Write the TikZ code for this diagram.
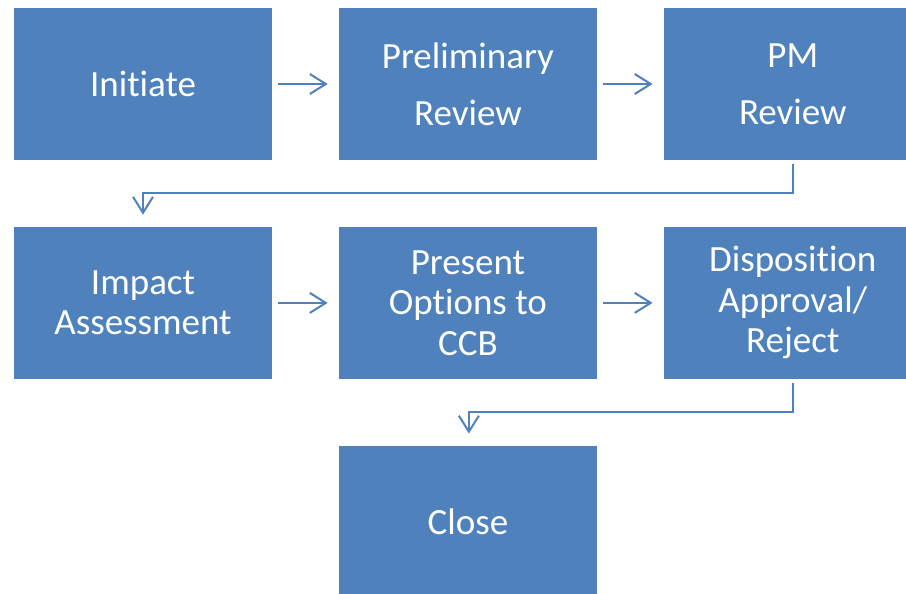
\documentclass[tikz,border=0pt]{standalone}
\usepackage{fontspec}
\setmainfont[Ligatures=NoCommon]{Carlito}
\usetikzlibrary{arrows.meta, positioning}

\definecolor{boxblue}{HTML}{4F81BD}

\begin{document}
\begin{tikzpicture}[x=1pt,y=1pt,node distance=66.5pt,
 stage/.style={rectangle,fill=boxblue,text=white,minimum width=258pt,minimum height=152pt,
  inner sep=0pt,align=center,font=\fontsize{37}{40.5}\selectfont},
 tall/.style={font=\fontsize{37}{57}\selectfont},
 flow/.style={draw=boxblue,line width=2pt,-{Straight Barb[length=16pt,width=20pt]}}]
  \useasboundingbox (0,0) rectangle (906,-594);
  \node[stage] (I) at (143,-84) {Initiate};
  \node[stage,tall] (P) [right=of I] {Preliminary\\Review};
  \node[stage,tall] (M) [right=of P] {PM\\Review};
  \node[stage] (A) [below=of I] {Impact\\Assessment};
  \node[stage] (O) [right=of A] {Present\\Options to\\CCB};
  \node[stage] (D) [right=of O] {Disposition\\Approval/\\Reject};
  \node[stage] (C) [below=of O] {Close};

  \foreach \s/\t in {I/P, P/M, A/O, O/D} {
   \path[flow,shorten <=6pt,shorten >=11pt] (\s) -- (\t);}
  \draw[flow] ([yshift=-4pt]M.south) -- ++(0,-29) -| ([yshift=12pt]A.north);
  \draw[flow] ([yshift=-4pt]D.south) -- ++(0,-29) -| ([yshift=12pt,xshift=1pt]C.north);
\end{tikzpicture}
\end{document}
